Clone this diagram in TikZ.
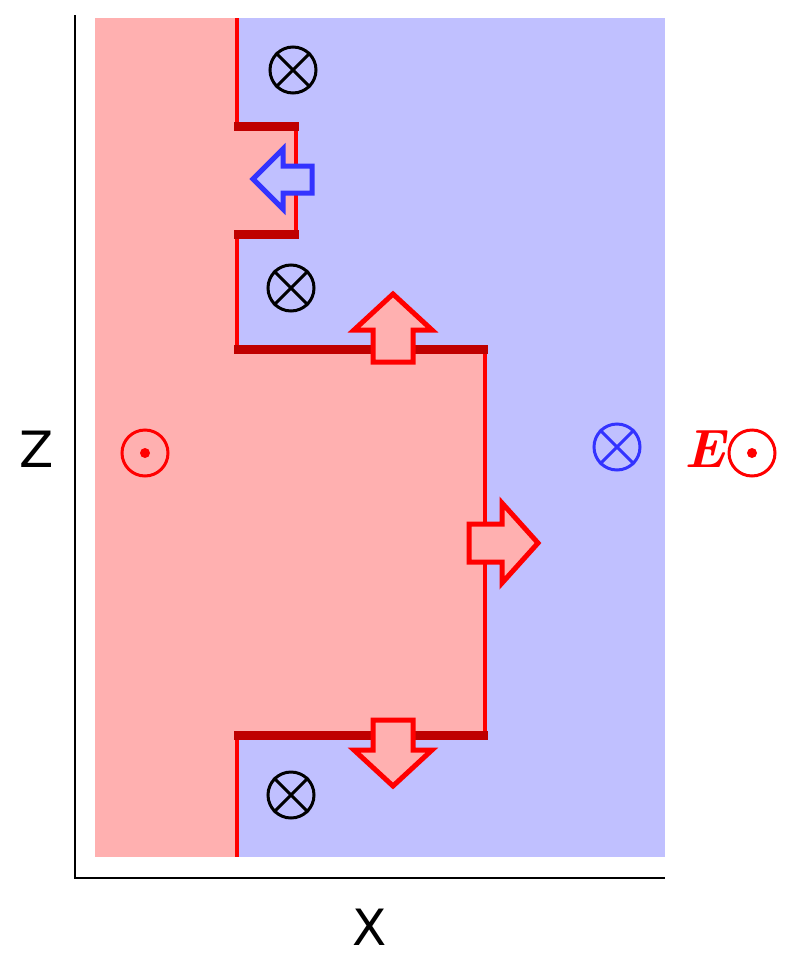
\documentclass[tikz,border=0pt]{standalone}
\usepackage{fontspec}
\setsansfont{DejaVu Sans}
\definecolor{pinkc}{RGB}{255,176,176}
\definecolor{bluec}{RGB}{192,192,255}
\definecolor{bblue}{RGB}{51,51,255}
\begin{document}
\begin{tikzpicture}[x=1pt,y=-1pt,
  thin red/.style={draw=red,line width=4pt},
  bar/.style={draw=red!75!black,line width=9pt},
  rarrow/.style={draw=red,fill=pinkc,line width=5pt,miter limit=10},
  barrow/.style={draw=bblue,fill=bluec,line width=5pt},
  sym/.style={circle,draw,line width=3pt,minimum size=46pt,inner sep=0pt},
  lbl/.style={font=\sffamily\fontsize{50}{50}\selectfont,inner sep=0pt}]
\useasboundingbox (0,0) rectangle (790,956);
\fill[bluec] (237,18) rectangle (665,857);
\fill[pinkc] (95,18) rectangle (237,857);
\fill[pinkc] (237,349) rectangle (485,735);
\fill[pinkc] (237,125) rectangle (296,233);
% axes
\draw[line width=2.5pt] (75,15) -- (75,878) -- (665,878);
\node[lbl] (z) at (37,449) {Z};
\node[lbl] (x) at (370,927) {X};
% boundary
\draw[thin red] (237,18) -- (237,125);
\draw[thin red] (296,125) -- (296,233);
\draw[thin red] (237,233) -- (237,349);
\draw[thin red] (485,349) -- (485,735);
\draw[thin red] (237,735) -- (237,857);
\draw[bar] (234,126) -- (299,126);
\draw[bar] (234,234) -- (299,234);
\draw[bar] (234,349) -- (488,349);
\draw[bar] (234,735) -- (488,735);
% arrows
\draw[barrow] (253,179) -- (283,149) -- (283,166) -- (312,166) -- (312,193) -- (283,193) -- (283,209) -- cycle;
\draw[rarrow] (393,294) -- (432,330) -- (413,330) -- (413,362) -- (373,362) -- (373,330) -- (354,330) -- cycle;
\draw[rarrow] (538,543) -- (502,503) -- (502,524) -- (469,524) -- (469,562) -- (502,562) -- (502,583) -- cycle;
\draw[rarrow] (393,786) -- (432,750) -- (413,750) -- (413,720) -- (373,720) -- (373,750) -- (354,750) -- cycle;
% symbols
\foreach \n/\px/\py/\c in {a/293/70/black,b/291/288/black,c/291/795/black,d/617/447/bblue}{
  \node[sym,draw=\c] (\n) at (\px,\py) {};
  \draw[\c,line width=3pt] (\n.north east) -- (\n.south west) (\n.north west) -- (\n.south east);
}
\node[sym,draw=red] (o1) at (145,453) {};
\fill[red] (o1.center) circle (5);
\node[text=red,font=\fontsize{54}{54}\selectfont\bfseries\itshape,inner sep=0pt] (e) at (705,449) {E};
\node[sym,draw=red] (o2) at (752,453) {};
\fill[red] (o2.center) circle (5);
\end{tikzpicture}
\end{document}
